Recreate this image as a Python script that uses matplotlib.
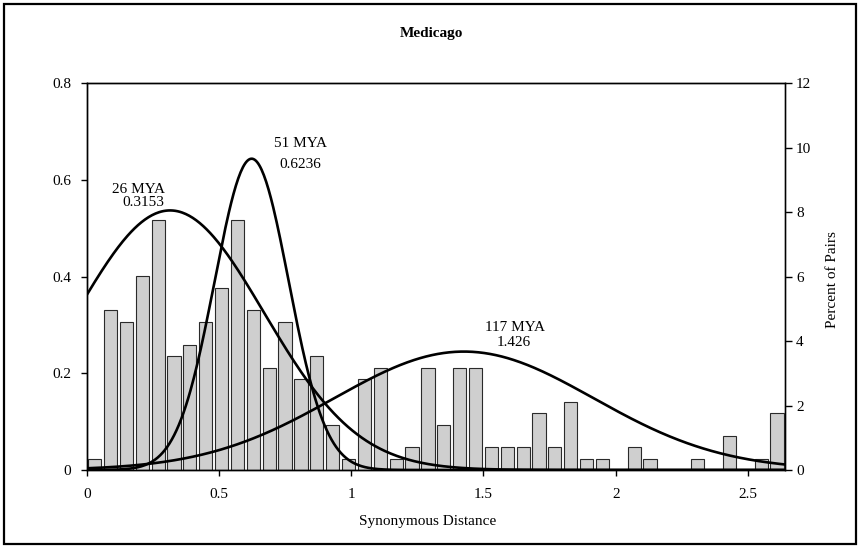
import numpy as np
import matplotlib
matplotlib.use("Agg")
import matplotlib.pyplot as plt
from matplotlib.patches import Rectangle

plt.rcParams['font.family'] = ['Liberation Serif', 'DejaVu Serif']

# ---- data ----
bin_width = 0.06
n_bins = 44
bin_centers = 0.03 + bin_width * np.arange(n_bins)
percent_pairs = [0.35, 4.95, 4.59, 6.01, 7.77, 3.53, 3.89, 4.59, 5.65, 7.77,
                 4.95, 3.18, 4.59, 2.83, 3.53, 1.41, 0.35, 2.83, 3.18, 0.35,
                 0.71, 3.18, 1.41, 3.18, 3.18, 0.71, 0.71, 0.71, 1.77, 0.71,
                 2.12, 0.35, 0.35, 0.00, 0.71, 0.35, 0.00, 0.00, 0.35, 0.00,
                 1.06, 0.00, 0.35, 1.77]

peak_means = [0.3153, 0.6236, 1.426]
peak_heights = [0.537, 0.644, 0.245]
peak_sds = [0.355, 0.14, 0.49]
peak_ages = ["26 MYA", "51 MYA", "117 MYA"]
peak_labels = ["0.3153", "0.6236", "1.426"]

x_ticks = [0, 0.5, 1, 1.5, 2, 2.5]
x_ticklabels = ["0", "0.5", "1", "1.5", "2", "2.5"]
left_ticks = [0, 0.2, 0.4, 0.6, 0.8]
left_ticklabels = ["0", "0.2", "0.4", "0.6", "0.8"]
right_ticks = [0, 2, 4, 6, 8, 10, 12]

# ---- figure ----
W, H = 860, 547
fig = plt.figure(figsize=(W / 100, H / 100), dpi=100)
ax = fig.add_axes([86.7 / W, 77 / H, (785 - 86.7) / W, (470 - 83.3) / H])
ax2 = ax.twinx()
ax.set_zorder(ax2.get_zorder() + 1)
ax.patch.set_visible(False)

fs = 11
ax2.bar(bin_centers, percent_pairs, width=0.05, color='#cfcfcf',
        edgecolor='#2a2a2a', linewidth=0.8)
ax2.set_ylim(0, 12)
ax2.set_yticks(right_ticks)
ax2.set_yticklabels([str(t) for t in right_ticks], fontsize=fs)

xs = np.linspace(0, 2.64, 600)
for m, h, s in zip(peak_means, peak_heights, peak_sds):
    ax.plot(xs, h * np.exp(-(xs - m) ** 2 / (2 * s ** 2)), color='black', lw=1.9,
            solid_capstyle='round')

ax.set_xlim(0, 2.64)
ax.set_ylim(0, 0.8)
ax.set_xticks(x_ticks)
ax.set_xticklabels(x_ticklabels, fontsize=fs)
ax.set_yticks(left_ticks)
ax.set_yticklabels(left_ticklabels, fontsize=fs)

ax.tick_params(axis='x', direction='out', length=4, width=1, pad=9)
ax.tick_params(axis='y', direction='out', length=4, width=1, pad=7)
ax2.tick_params(axis='y', direction='out', length=5, width=1, pad=3)
for a in (ax, ax2):
    for sp in a.spines.values():
        sp.set_linewidth(1)
        sp.set_color('black')
ax2.spines['right'].set_color('#404040')

# annotations
age_pos = [(0.195, 0.580), (0.807, 0.676), (1.62, 0.294)]
val_pos = [(0.214, 0.553), (0.807, 0.632), (1.616, 0.263)]
for lab, val, p1, p2 in zip(peak_ages, peak_labels, age_pos, val_pos):
    ax.text(p1[0], p1[1], lab, ha='center', va='center', fontsize=fs)
    ax.text(p2[0], p2[1], val, ha='center', va='center', fontsize=fs)

fig.text(431 / W, 1 - 33 / H, "Medicago", ha='center', va='center',
         fontsize=fs, fontweight='bold')
fig.text(428 / W, 1 - 522 / H, "Synonymous Distance", ha='center', va='center',
         fontsize=fs)
fig.text(832 / W, 1 - 280 / H, "Percent of Pairs", ha='center', va='center',
         fontsize=fs, rotation=90)

fig.patches.append(Rectangle((4 / W, 3 / H), (W - 8) / W, (H - 7) / H,
                             transform=fig.transFigure, fill=False,
                             edgecolor='black', linewidth=1.6))

fig.savefig("out.png", dpi=100)
